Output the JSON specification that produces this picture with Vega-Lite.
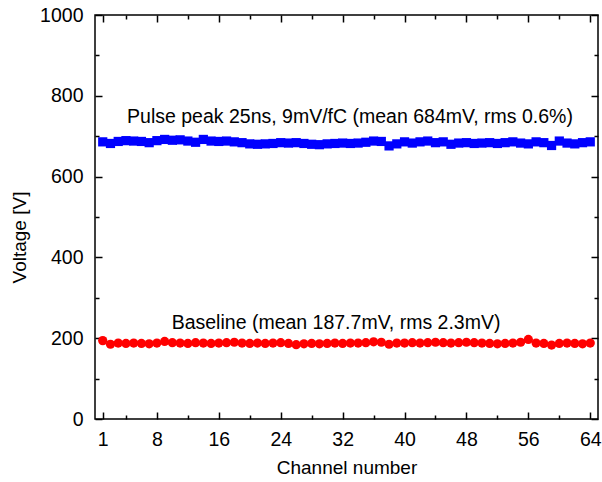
{
  "$schema": "https://vega.github.io/schema/vega-lite/v6.json",
  "width": 503,
  "height": 404,
  "autosize": {"type": "none"},
  "padding": {"left": 95, "top": 15, "right": 4, "bottom": 63},
  "background": "white",
  "datasets": {
    "pulse": [
      {"channel":1,"voltage":686},{"channel":2,"voltage":682},{"channel":3,"voltage":687},{"channel":4,"voltage":689},
      {"channel":5,"voltage":688},{"channel":6,"voltage":687},{"channel":7,"voltage":684},{"channel":8,"voltage":689},
      {"channel":9,"voltage":692},{"channel":10,"voltage":690},{"channel":11,"voltage":691},{"channel":12,"voltage":688},
      {"channel":13,"voltage":685},{"channel":14,"voltage":692},{"channel":15,"voltage":688},{"channel":16,"voltage":687},
      {"channel":17,"voltage":688},{"channel":18,"voltage":686},{"channel":19,"voltage":684},{"channel":20,"voltage":681},
      {"channel":21,"voltage":680},{"channel":22,"voltage":681},{"channel":23,"voltage":682},{"channel":24,"voltage":684},
      {"channel":25,"voltage":683},{"channel":26,"voltage":684},{"channel":27,"voltage":682},{"channel":28,"voltage":680},
      {"channel":29,"voltage":679},{"channel":30,"voltage":681},{"channel":31,"voltage":682},{"channel":32,"voltage":683},
      {"channel":33,"voltage":682},{"channel":34,"voltage":683},{"channel":35,"voltage":685},{"channel":36,"voltage":688},
      {"channel":37,"voltage":687},{"channel":38,"voltage":676},{"channel":39,"voltage":681},{"channel":40,"voltage":686},
      {"channel":41,"voltage":683},{"channel":42,"voltage":686},{"channel":43,"voltage":688},{"channel":44,"voltage":684},
      {"channel":45,"voltage":686},{"channel":46,"voltage":680},{"channel":47,"voltage":683},{"channel":48,"voltage":684},
      {"channel":49,"voltage":682},{"channel":50,"voltage":683},{"channel":51,"voltage":684},{"channel":52,"voltage":682},
      {"channel":53,"voltage":684},{"channel":54,"voltage":686},{"channel":55,"voltage":683},{"channel":56,"voltage":681},
      {"channel":57,"voltage":686},{"channel":58,"voltage":684},{"channel":59,"voltage":677},{"channel":60,"voltage":688},
      {"channel":61,"voltage":683},{"channel":62,"voltage":681},{"channel":63,"voltage":684},{"channel":64,"voltage":686}
    ],
    "baseline": [
      {"channel":1,"voltage":194},{"channel":2,"voltage":185},{"channel":3,"voltage":188},{"channel":4,"voltage":187},
      {"channel":5,"voltage":188},{"channel":6,"voltage":187},{"channel":7,"voltage":186},{"channel":8,"voltage":188},
      {"channel":9,"voltage":192},{"channel":10,"voltage":189},{"channel":11,"voltage":188},{"channel":12,"voltage":187},
      {"channel":13,"voltage":189},{"channel":14,"voltage":188},{"channel":15,"voltage":187},{"channel":16,"voltage":188},
      {"channel":17,"voltage":189},{"channel":18,"voltage":190},{"channel":19,"voltage":188},{"channel":20,"voltage":187},
      {"channel":21,"voltage":188},{"channel":22,"voltage":187},{"channel":23,"voltage":188},{"channel":24,"voltage":189},
      {"channel":25,"voltage":187},{"channel":26,"voltage":184},{"channel":27,"voltage":186},{"channel":28,"voltage":187},
      {"channel":29,"voltage":186},{"channel":30,"voltage":187},{"channel":31,"voltage":188},{"channel":32,"voltage":187},
      {"channel":33,"voltage":188},{"channel":34,"voltage":188},{"channel":35,"voltage":189},{"channel":36,"voltage":191},
      {"channel":37,"voltage":190},{"channel":38,"voltage":185},{"channel":39,"voltage":188},{"channel":40,"voltage":188},
      {"channel":41,"voltage":189},{"channel":42,"voltage":188},{"channel":43,"voltage":189},{"channel":44,"voltage":190},
      {"channel":45,"voltage":189},{"channel":46,"voltage":188},{"channel":47,"voltage":189},{"channel":48,"voltage":190},
      {"channel":49,"voltage":189},{"channel":50,"voltage":188},{"channel":51,"voltage":187},{"channel":52,"voltage":186},
      {"channel":53,"voltage":187},{"channel":54,"voltage":188},{"channel":55,"voltage":190},{"channel":56,"voltage":197},
      {"channel":57,"voltage":188},{"channel":58,"voltage":187},{"channel":59,"voltage":183},{"channel":60,"voltage":187},
      {"channel":61,"voltage":188},{"channel":62,"voltage":187},{"channel":63,"voltage":186},{"channel":64,"voltage":188}
    ],
    "notes": [
      {"channel": 32.95, "voltage": 748, "label": "Pulse peak 25ns, 9mV/fC (mean 684mV, rms 0.6%)"},
      {"channel": 31.15, "voltage": 238, "label": "Baseline (mean 187.7mV, rms 2.3mV)"}
    ]
  },
  "layer": [
    {
      "data": {"name": "pulse"},
      "mark": {"type": "square", "filled": true, "size": 85, "color": "#0000FF", "opacity": 1},
      "encoding": {
        "x": {
          "field": "channel", "type": "quantitative",
          "scale": {"domain": [0, 65], "nice": false, "zero": false},
          "axis": {
            "orient": "bottom",
            "title": "Channel number",
            "values": [1,4,8,12,16,20,24,28,32,36,40,44,48,52,56,60,64],
            "format": "d",
            "labelExpr": "datum.value == 1 || datum.value % 8 == 0 ? datum.label : ''",
            "tickSize": {"condition": {"test": "datum.value == 1 || datum.value % 8 == 0", "value": -7}, "value": -4},
            "labelPadding": 18,
            "labelBaseline": "top",
            "labelFlush": false,
            "labelOverlap": false,
            "titleY": 48,
            "titleBaseline": "middle"
          }
        },
        "y": {
          "field": "voltage", "type": "quantitative",
          "scale": {"domain": [0, 1000], "nice": false, "zero": false},
          "axis": {
            "orient": "left",
            "title": "Voltage [V]",
            "values": [0,100,200,300,400,500,600,700,800,900,1000],
            "format": "d",
            "labelExpr": "datum.value % 200 == 0 ? datum.label : ''",
            "tickSize": {"condition": {"test": "datum.value % 200 == 0", "value": -7}, "value": -4},
            "labelPadding": 19,
            "labelBaseline": "middle",
            "labelFlush": false,
            "labelOverlap": false,
            "titleAngle": 270,
            "titleX": -76,
            "titleY": 222,
            "titleAlign": "center",
            "titleBaseline": "middle"
          }
        }
      }
    },
    {
      "data": {"name": "baseline"},
      "mark": {"type": "circle", "size": 85, "color": "#FF0000", "opacity": 1},
      "encoding": {
        "x": {"field": "channel", "type": "quantitative", "axis": null},
        "y": {"field": "voltage", "type": "quantitative", "axis": null}
      }
    },
    {
      "data": {"name": "notes"},
      "mark": {"type": "text", "font": "Liberation Sans", "fontSize": 19.5, "color": "#000", "align": "center", "baseline": "middle"},
      "encoding": {
        "x": {
          "field": "channel", "type": "quantitative",
          "axis": {
            "orient": "top", "title": null, "labels": false,
            "values": [1,4,8,12,16,20,24,28,32,36,40,44,48,52,56,60,64],
            "tickSize": {"condition": {"test": "datum.value == 1 || datum.value % 8 == 0", "value": -7}, "value": -4}
          }
        },
        "y": {
          "field": "voltage", "type": "quantitative",
          "axis": {
            "orient": "right", "title": null, "labels": false,
            "values": [0,100,200,300,400,500,600,700,800,900,1000],
            "tickSize": {"condition": {"test": "datum.value % 200 == 0", "value": -7}, "value": -4}
          }
        },
        "text": {"field": "label", "type": "nominal"}
      }
    }
  ],
  "resolve": {"axis": {"x": "independent", "y": "independent"}},
  "config": {
    "view": {"stroke": "#000", "strokeWidth": 1.5},
    "axis": {
      "domain": false,
      "grid": false,
      "tickColor": "#000",
      "tickWidth": 1.5,
      "labelFont": "Liberation Sans",
      "labelFontSize": 19.5,
      "labelColor": "#000",
      "titleFont": "Liberation Sans",
      "titleFontSize": 19,
      "titleFontWeight": "normal",
      "titleColor": "#000"
    }
  }
}
